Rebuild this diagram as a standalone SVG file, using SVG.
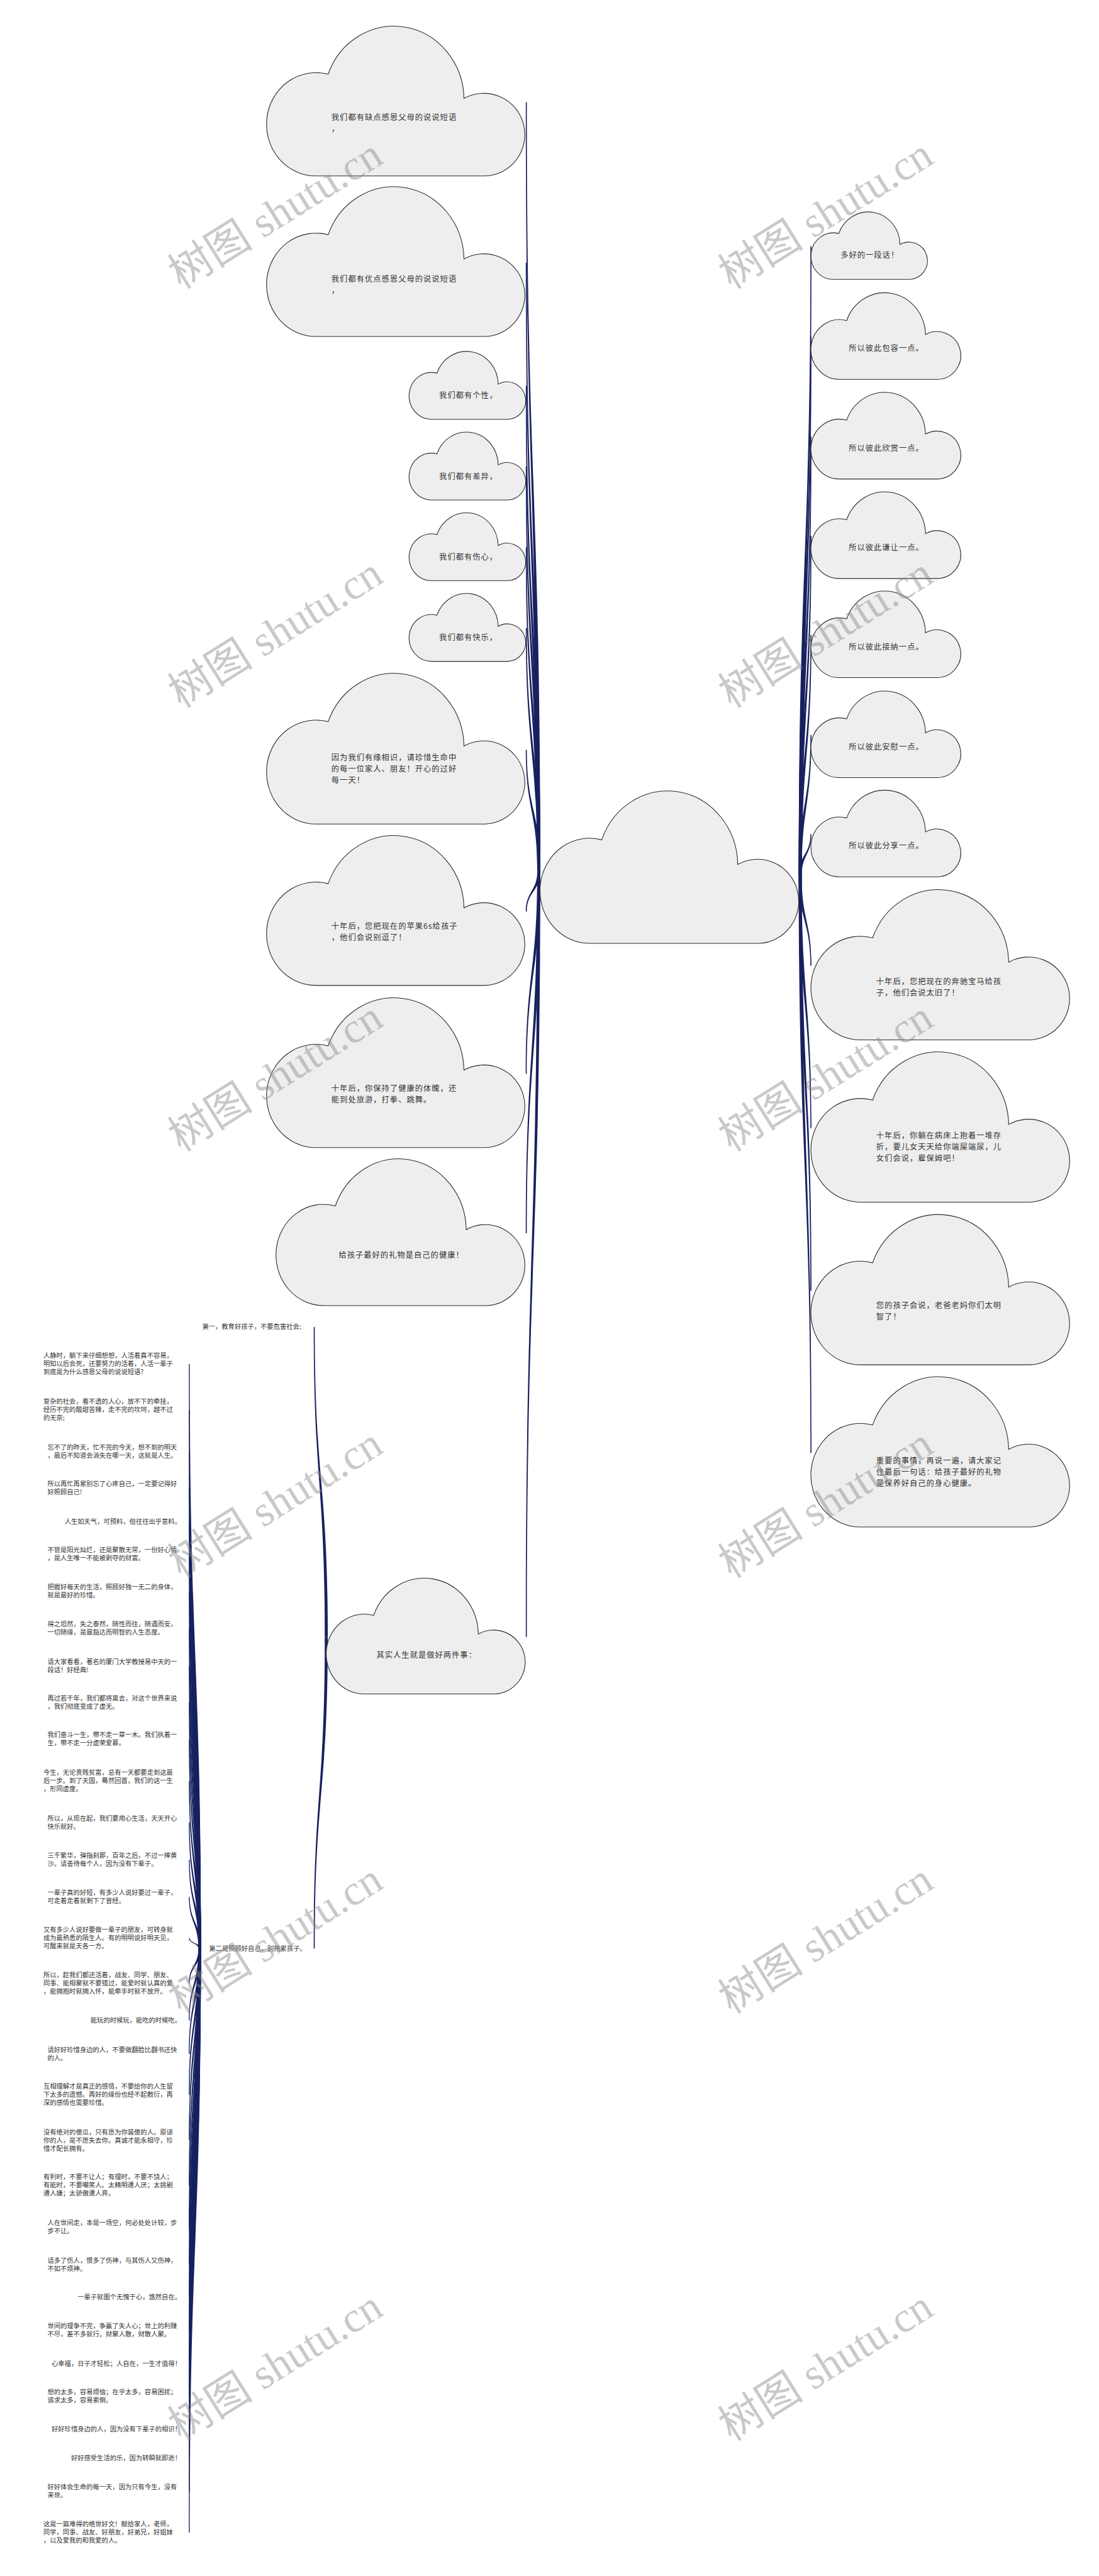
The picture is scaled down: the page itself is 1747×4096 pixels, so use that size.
<svg xmlns="http://www.w3.org/2000/svg" width="1747" height="4096" viewBox="0 0 1747 4096">
<style>
.cl{fill:#eeeeee;stroke:#2b2b2b;stroke-width:1.1;vector-effect:non-scaling-stroke}
.t{font-family:"Noto Sans CJK SC","Liberation Sans",sans-serif;font-size:18px;letter-spacing:1.5px;fill:#333}
.s{font-family:"Noto Sans CJK SC","Liberation Sans",sans-serif;font-size:15.1px;fill:#333}
.e{text-anchor:end}
.cn{fill:#18215f}
.wm{font-family:"Liberation Serif","Noto Sans CJK SC",serif;font-size:100px;fill:#8a8a8a;opacity:.45;text-anchor:middle}
</style>
<defs>
<path id="cloud" class="cl" d="M23.7,31.1 A27,50 0 0 1 76,47.5 A15.8,28 0 1 1 84.2,100 L19,100 A19,35 0 1 1 23.7,31.1 Z"/>
</defs>
<rect width="1747" height="4096" fill="#ffffff"/>
<g transform="scale(0.682422)">
<g id="connectors" class="cn">
<path d="M1251.5,2030C1251.5,1134 1224.8,1134 1224.8,238L1227.2,238C1227.2,1134 1258.5,1134 1258.5,2030Z"/>
<path d="M1251.5,2030C1251.5,1321 1224.8,1321 1224.8,612L1227.2,612C1227.2,1321 1258.5,1321 1258.5,2030Z"/>
<path d="M1251.5,2030C1251.5,1464.5 1224.8,1464.5 1224.8,899L1227.2,899C1227.2,1464.5 1258.5,1464.5 1258.5,2030Z"/>
<path d="M1251.5,2030C1251.5,1558.5 1224.8,1558.5 1224.8,1087L1227.2,1087C1227.2,1558.5 1258.5,1558.5 1258.5,2030Z"/>
<path d="M1251.5,2030C1251.5,1652.5 1224.8,1652.5 1224.8,1275L1227.2,1275C1227.2,1652.5 1258.5,1652.5 1258.5,2030Z"/>
<path d="M1251.5,2030C1251.5,1746.5 1224.8,1746.5 1224.8,1463L1227.2,1463C1227.2,1746.5 1258.5,1746.5 1258.5,2030Z"/>
<path d="M1251.5,2030C1251.5,1888.5 1224.8,1888.5 1224.8,1747L1227.2,1747C1227.2,1888.5 1258.5,1888.5 1258.5,2030Z"/>
<path d="M1251.5,2030C1251.5,2077 1224.8,2077 1224.8,2124L1227.2,2124C1227.2,2077 1258.5,2077 1258.5,2030Z"/>
<path d="M1251.5,2030C1251.5,2266 1224.8,2266 1224.8,2502L1227.2,2502C1227.2,2266 1258.5,2266 1258.5,2030Z"/>
<path d="M1251.5,2030C1251.5,2452 1224.8,2452 1224.8,2873.5L1227.2,2873.5C1227.2,2452 1258.5,2452 1258.5,2030Z"/>
<path d="M1251.5,2030C1251.5,2922 1224.8,2922 1224.8,3814L1227.2,3814C1227.2,2922 1258.5,2922 1258.5,2030Z"/>
<path d="M1860.5,2040C1860.5,1307 1887.8,1307 1887.8,573.5L1890.2,573.5C1890.2,1307 1867.5,1307 1867.5,2040Z"/>
<path d="M1860.5,2040C1860.5,1412 1887.8,1412 1887.8,784.5L1890.2,784.5C1890.2,1412 1867.5,1412 1867.5,2040Z"/>
<path d="M1860.5,2040C1860.5,1528 1887.8,1528 1887.8,1016.5L1890.2,1016.5C1890.2,1528 1867.5,1528 1867.5,2040Z"/>
<path d="M1860.5,2040C1860.5,1644 1887.8,1644 1887.8,1248.5L1890.2,1248.5C1890.2,1644 1867.5,1644 1867.5,2040Z"/>
<path d="M1860.5,2040C1860.5,1760 1887.8,1760 1887.8,1479.5L1890.2,1479.5C1890.2,1760 1867.5,1760 1867.5,2040Z"/>
<path d="M1860.5,2040C1860.5,1876 1887.8,1876 1887.8,1712.5L1890.2,1712.5C1890.2,1876 1867.5,1876 1867.5,2040Z"/>
<path d="M1860.5,2040C1860.5,1992 1887.8,1992 1887.8,1943.5L1890.2,1943.5C1890.2,1992 1867.5,1992 1867.5,2040Z"/>
<path d="M1860.5,2040C1860.5,2145 1887.8,2145 1887.8,2250.5L1890.2,2250.5C1890.2,2145 1867.5,2145 1867.5,2040Z"/>
<path d="M1860.5,2040C1860.5,2334 1887.8,2334 1887.8,2628.5L1890.2,2628.5C1890.2,2334 1867.5,2334 1867.5,2040Z"/>
<path d="M1860.5,2040C1860.5,2524 1887.8,2524 1887.8,3007.5L1890.2,3007.5C1890.2,2524 1867.5,2524 1867.5,2040Z"/>
<path d="M1860.5,2040C1860.5,2713 1887.8,2713 1887.8,3385.5L1890.2,3385.5C1890.2,2713 1867.5,2713 1867.5,2040Z"/>
<path d="M756.5,3814C756.5,3453 730.8,3453 730.8,3092L733.2,3092C733.2,3453 763.5,3453 763.5,3814Z"/>
<path d="M756.5,3814C756.5,4177 730.8,4177 730.8,4540L733.2,4540C733.2,4177 763.5,4177 763.5,3814Z"/>
<path d="M462,4540C462,3859 440,3859 440,3178L442,3178C442,3859 468,3859 468,4540Z"/>
<path d="M462,4540C462,3912.5 440,3912.5 440,3285L442,3285C442,3912.5 468,3912.5 468,4540Z"/>
<path d="M462,4540C462,3960.5 440,3960.5 440,3381L442,3381C442,3960.5 468,3960.5 468,4540Z"/>
<path d="M462,4540C462,4003.5 440,4003.5 440,3467L442,3467C442,4003.5 468,4003.5 468,4540Z"/>
<path d="M462,4540C462,4042.5 440,4042.5 440,3545L442,3545C442,4042.5 468,4042.5 468,4540Z"/>
<path d="M462,4540C462,4080.5 440,4080.5 440,3621L442,3621C442,4080.5 468,4080.5 468,4540Z"/>
<path d="M462,4540C462,4123.5 440,4123.5 440,3707L442,3707C442,4123.5 468,4123.5 468,4540Z"/>
<path d="M462,4540C462,4167 440,4167 440,3794L442,3794C442,4167 468,4167 468,4540Z"/>
<path d="M462,4540C462,4210.5 440,4210.5 440,3881L442,3881C442,4210.5 468,4210.5 468,4540Z"/>
<path d="M462,4540C462,4253.5 440,4253.5 440,3967L442,3967C442,4253.5 468,4253.5 468,4540Z"/>
<path d="M462,4540C462,4296.5 440,4296.5 440,4053L442,4053C442,4296.5 468,4296.5 468,4540Z"/>
<path d="M462,4540C462,4345 440,4345 440,4150L442,4150C442,4345 468,4345 468,4540Z"/>
<path d="M462,4540C462,4393 440,4393 440,4246L442,4246C442,4393 468,4393 468,4540Z"/>
<path d="M462,4540C462,4436.5 440,4436.5 440,4333L442,4333C442,4436.5 468,4436.5 468,4540Z"/>
<path d="M462,4540C462,4480 440,4480 440,4420L442,4420C442,4480 468,4480 468,4540Z"/>
<path d="M462,4540C462,4528 440,4528 440,4516L442,4516C442,4528 468,4528 468,4540Z"/>
<path d="M462,4540C462,4580.5 440,4580.5 440,4621L442,4621C442,4580.5 468,4580.5 468,4540Z"/>
<path d="M462,4540C462,4624 440,4624 440,4708L442,4708C442,4624 468,4624 468,4540Z"/>
<path d="M462,4540C462,4663 440,4663 440,4786L442,4786C442,4663 468,4663 468,4540Z"/>
<path d="M462,4540C462,4710.5 440,4710.5 440,4881L442,4881C442,4710.5 468,4710.5 468,4540Z"/>
<path d="M462,4540C462,4763.5 440,4763.5 440,4987L442,4987C442,4763.5 468,4763.5 468,4540Z"/>
<path d="M462,4540C462,4816 440,4816 440,5092L442,5092C442,4816 468,4816 468,4540Z"/>
<path d="M462,4540C462,4865 440,4865 440,5190L442,5190C442,4865 468,4865 468,4540Z"/>
<path d="M462,4540C462,4908.5 440,4908.5 440,5277L442,5277C442,4908.5 468,4908.5 468,4540Z"/>
<path d="M462,4540C462,4946.5 440,4946.5 440,5353L442,5353C442,4946.5 468,4946.5 468,4540Z"/>
<path d="M462,4540C462,4985 440,4985 440,5430L442,5430C442,4985 468,4985 468,4540Z"/>
<path d="M462,4540C462,5023.5 440,5023.5 440,5507L442,5507C442,5023.5 468,5023.5 468,4540Z"/>
<path d="M462,4540C462,5061.5 440,5061.5 440,5583L442,5583C442,5061.5 468,5061.5 468,4540Z"/>
<path d="M462,4540C462,5100 440,5100 440,5660L442,5660C442,5100 468,5100 468,4540Z"/>
<path d="M462,4540C462,5134 440,5134 440,5728L442,5728C442,5134 468,5134 468,4540Z"/>
<path d="M462,4540C462,5172.5 440,5172.5 440,5805L442,5805C442,5172.5 468,5172.5 468,4540Z"/>
<path d="M462,4540C462,5220.5 440,5220.5 440,5901L442,5901C442,5220.5 468,5220.5 468,4540Z"/>
</g>
<g id="n-root"><use href="#cloud" transform="translate(1258,1848) scale(6.06,3.5)"/></g>
<g id="n-l1"><use href="#cloud" transform="translate(621,66) scale(6.05,3.44)"/><text class="t" x="772" y="280">我们都有缺点感恩父母的说说短语<tspan x="772" dy="26">，</tspan></text></g>
<g id="n-l2"><use href="#cloud" transform="translate(621,440) scale(6.05,3.44)"/><text class="t" x="772" y="657">我们都有优点感恩父母的说说短语<tspan x="772" dy="26">，</tspan></text></g>
<g id="n-l3"><use href="#cloud" transform="translate(953,821) scale(2.73,1.56)"/><text class="t" x="1023" y="928">我们都有个性，</text></g>
<g id="n-l4"><use href="#cloud" transform="translate(953,1009) scale(2.73,1.56)"/><text class="t" x="1023" y="1116">我们都有差异，</text></g>
<g id="n-l5"><use href="#cloud" transform="translate(953,1197) scale(2.73,1.56)"/><text class="t" x="1023" y="1304">我们都有伤心，</text></g>
<g id="n-l6"><use href="#cloud" transform="translate(953,1385) scale(2.73,1.56)"/><text class="t" x="1023" y="1492">我们都有快乐，</text></g>
<g id="n-l7"><use href="#cloud" transform="translate(621,1574) scale(6.05,3.46)"/><text class="t" x="772" y="1772">因为我们有缘相识，请珍惜生命中<tspan x="772" dy="26">的每一位家人、朋友！开心的过好</tspan><tspan x="772" dy="26">每一天！</tspan></text></g>
<g id="n-l8"><use href="#cloud" transform="translate(621,1952) scale(6.05,3.44)"/><text class="t" x="772" y="2165">十年后，您把现在的苹果6s给孩子<tspan x="772" dy="26">，他们会说别逗了！</tspan></text></g>
<g id="n-l9"><use href="#cloud" transform="translate(621,2330) scale(6.05,3.44)"/><text class="t" x="772" y="2543">十年后，你保持了健康的体魄，还<tspan x="772" dy="26">能到处旅游，打拳、跳舞。</tspan></text></g>
<g id="n-l10"><use href="#cloud" transform="translate(643,2705) scale(5.83,3.37)"/><text class="t" x="789" y="2931">给孩子最好的礼物是自己的健康！</text></g>
<g id="n-l11"><use href="#cloud" transform="translate(760,3681) scale(4.66,2.66)"/><text class="t" x="877" y="3862">其实人生就是做好两件事：</text></g>
<g id="n-r1"><use href="#cloud" transform="translate(1889,496) scale(2.73,1.55)"/><text class="t" x="1958" y="601">多好的一段话！</text></g>
<g id="n-r2"><use href="#cloud" transform="translate(1889,685) scale(3.51,1.99)"/><text class="t" x="1977" y="818">所以彼此包容一点。</text></g>
<g id="n-r3"><use href="#cloud" transform="translate(1889,917) scale(3.51,1.99)"/><text class="t" x="1977" y="1050">所以彼此欣赏一点。</text></g>
<g id="n-r4"><use href="#cloud" transform="translate(1889,1149) scale(3.51,1.99)"/><text class="t" x="1977" y="1282">所以彼此谦让一点。</text></g>
<g id="n-r5"><use href="#cloud" transform="translate(1889,1380) scale(3.51,1.99)"/><text class="t" x="1977" y="1513">所以彼此接纳一点。</text></g>
<g id="n-r6"><use href="#cloud" transform="translate(1889,1613) scale(3.51,1.99)"/><text class="t" x="1977" y="1746">所以彼此安慰一点。</text></g>
<g id="n-r7"><use href="#cloud" transform="translate(1889,1844) scale(3.51,1.99)"/><text class="t" x="1977" y="1977">所以彼此分享一点。</text></g>
<g id="n-r8"><use href="#cloud" transform="translate(1889,2078) scale(6.06,3.45)"/><text class="t" x="2041" y="2294">十年后，您把现在的奔驰宝马给孩<tspan x="2041" dy="26">子，他们会说太旧了！</tspan></text></g>
<g id="n-r9"><use href="#cloud" transform="translate(1889,2456) scale(6.06,3.45)"/><text class="t" x="2041" y="2653">十年后，你躺在病床上抱着一堆存<tspan x="2041" dy="26">折，要儿女天天给你端屎端尿，儿</tspan><tspan x="2041" dy="26">女们会说，雇保姆吧！</tspan></text></g>
<g id="n-r10"><use href="#cloud" transform="translate(1889,2835) scale(6.06,3.45)"/><text class="t" x="2041" y="3048">您的孩子会说，老爸老妈你们太明<tspan x="2041" dy="26">智了！</tspan></text></g>
<g id="n-r11"><use href="#cloud" transform="translate(1889,3213) scale(6.06,3.45)"/><text class="t" x="2041" y="3410">重要的事情，再说一遍，请大家记<tspan x="2041" dy="26">住最后一句话：给孩子最好的礼物</tspan><tspan x="2041" dy="26">是保养好自己的身心健康。</tspan></text></g>
<g id="n-a"><text class="s" x="471" y="3097" font-size="15">第一，教育好孩子，不要危害社会;</text></g>
<g id="n-b"><text class="s" x="487" y="4545" font-size="15">第二是照顾好自己，别拖累孩子。</text></g>
<g id="n-b1"><text class="s" x="101" y="3164">人静时，躺下来仔细想想，人活着真不容易，<tspan x="101" dy="19">明知以后会死，还要努力的活着，人活一辈子</tspan><tspan x="101" dy="19">到底是为什么感恩父母的说说短语?</tspan></text></g>
<g id="n-b2"><text class="s" x="101" y="3271">复杂的社会，看不透的人心，放不下的牵挂，<tspan x="101" dy="19">经历不完的酸甜苦辣，走不完的坎坷，越不过</tspan><tspan x="101" dy="19">的无奈;</tspan></text></g>
<g id="n-b3"><text class="s" x="110.5" y="3377">忘不了的昨天，忙不完的今天，想不到的明天<tspan x="110.5" dy="19">，最后不知道会消失在哪一天，这就是人生。</tspan></text></g>
<g id="n-b4"><text class="s" x="110.5" y="3462">所以再忙再累别忘了心疼自己，一定要记得好<tspan x="110.5" dy="19">好照顾自己!</tspan></text></g>
<g id="n-b5"><text class="s e" x="422" y="3550">人生如天气，可预料，但往往出乎意料。</text></g>
<g id="n-b6"><text class="s" x="110.5" y="3617">不管是阳光灿烂，还是聚散无常，一份好心情<tspan x="110.5" dy="19">，是人生唯一不能被剥夺的财富。</tspan></text></g>
<g id="n-b7"><text class="s" x="110.5" y="3703">把握好每天的生活，照顾好独一无二的身体，<tspan x="110.5" dy="19">就是最好的珍惜。</tspan></text></g>
<g id="n-b8"><text class="s" x="110.5" y="3790">得之坦然，失之泰然，随性而往，随遇而安，<tspan x="110.5" dy="19">一切随缘，是最豁达而明智的人生态度。</tspan></text></g>
<g id="n-b9"><text class="s" x="110.5" y="3877">请大家看看，著名的厦门大学教授易中天的一<tspan x="110.5" dy="19">段话！好经典!</tspan></text></g>
<g id="n-b10"><text class="s" x="110.5" y="3962">再过若干年，我们都将离去，对这个世界来说<tspan x="110.5" dy="19">，我们彻底变成了虚无。</tspan></text></g>
<g id="n-b11"><text class="s" x="110.5" y="4048">我们奋斗一生，带不走一草一木。我们执着一<tspan x="110.5" dy="19">生，带不走一分虚荣爱慕。</tspan></text></g>
<g id="n-b12"><text class="s" x="101" y="4136">今生，无论贵贱贫富，总有一天都要走到这最<tspan x="101" dy="19">后一步。到了天国，蓦然回首，我们的这一生</tspan><tspan x="101" dy="19">，形同虚度。</tspan></text></g>
<g id="n-b13"><text class="s" x="110.5" y="4242">所以，从现在起，我们要用心生活，天天开心<tspan x="110.5" dy="19">快乐就好。</tspan></text></g>
<g id="n-b14"><text class="s" x="110.5" y="4329">三千繁华，弹指刹那，百年之后，不过一捧黄<tspan x="110.5" dy="19">沙。请善待每个人，因为没有下辈子。</tspan></text></g>
<g id="n-b15"><text class="s" x="110.5" y="4415">一辈子真的好短，有多少人说好要过一辈子，<tspan x="110.5" dy="19">可走着走着就剩下了曾经。</tspan></text></g>
<g id="n-b16"><text class="s" x="101" y="4502">又有多少人说好要做一辈子的朋友，可转身就<tspan x="101" dy="19">成为最熟悉的陌生人。有的明明说好明天见，</tspan><tspan x="101" dy="19">可醒来就是天各一方。</tspan></text></g>
<g id="n-b17"><text class="s" x="101" y="4607">所以，趁我们都还活着，战友、同学、朋友、<tspan x="101" dy="19">同事、能相聚就不要错过，能爱时就认真的爱</tspan><tspan x="101" dy="19">，能拥抱时就拥入怀，能牵手时就不放开。</tspan></text></g>
<g id="n-b18"><text class="s e" x="422" y="4713">能玩的时候玩，能吃的时候吃。</text></g>
<g id="n-b19"><text class="s" x="110.5" y="4782">请好好珍惜身边的人，不要做翻脸比翻书还快<tspan x="110.5" dy="19">的人。</tspan></text></g>
<g id="n-b20"><text class="s" x="101" y="4867">互相理解才是真正的感情，不要给你的人生留<tspan x="101" dy="19">下太多的遗憾。再好的缘份也经不起敷衍，再</tspan><tspan x="101" dy="19">深的感情也需要珍惜。</tspan></text></g>
<g id="n-b21"><text class="s" x="101" y="4973">没有绝对的傻瓜，只有愿为你装傻的人。原谅<tspan x="101" dy="19">你的人，是不愿失去你。真诚才能永相守，珍</tspan><tspan x="101" dy="19">惜才配长拥有。</tspan></text></g>
<g id="n-b22"><text class="s" x="101" y="5078">有利时，不要不让人；有理时，不要不饶人；<tspan x="101" dy="19">有能时，不要嘲笑人。太精明遭人厌；太挑剔</tspan><tspan x="101" dy="19">遭人嫌；太骄傲遭人弃。</tspan></text></g>
<g id="n-b23"><text class="s" x="110.5" y="5185">人在世间走，本是一场空，何必处处计较，步<tspan x="110.5" dy="19">步不让。</tspan></text></g>
<g id="n-b24"><text class="s" x="110.5" y="5272">话多了伤人，恨多了伤神，与其伤人又伤神，<tspan x="110.5" dy="19">不如不烦神。</tspan></text></g>
<g id="n-b25"><text class="s e" x="422" y="5358">一辈子就图个无愧于心，悠然自在。</text></g>
<g id="n-b26"><text class="s" x="110.5" y="5425">世间的理争不完，争赢了失人心；世上的利赚<tspan x="110.5" dy="19">不尽，差不多就行。财聚人散，财散人聚。</tspan></text></g>
<g id="n-b27"><text class="s e" x="422" y="5512">心幸福，日子才轻松；人自在，一生才值得！</text></g>
<g id="n-b28"><text class="s" x="110.5" y="5578">想的太多，容易烦恼；在乎太多，容易困扰；<tspan x="110.5" dy="19">追求太多，容易累倒。</tspan></text></g>
<g id="n-b29"><text class="s e" x="422" y="5665">好好珍惜身边的人，因为没有下辈子的相识！</text></g>
<g id="n-b30"><text class="s e" x="422" y="5733">好好感受生活的乐，因为转瞬就即逝！</text></g>
<g id="n-b31"><text class="s" x="110.5" y="5800">好好体会生命的每一天，因为只有今生，没有<tspan x="110.5" dy="19">来世。</tspan></text></g>
<g id="n-b32"><text class="s" x="101" y="5887">这是一篇难得的绝世好文！献给家人，老师，<tspan x="101" dy="19">同学，同事、战友、好朋友，好弟兄，好姐妹</tspan><tspan x="101" dy="19">，以及爱我的和我爱的人。</tspan></text></g>
<g id="watermark">
<text class="wm" x="641" y="532" transform="rotate(-32 641 497)">树图 shutu.cn</text>
<text class="wm" x="1923" y="532" transform="rotate(-32 1923 497)">树图 shutu.cn</text>
<text class="wm" x="641" y="1508" transform="rotate(-32 641 1473)">树图 shutu.cn</text>
<text class="wm" x="1923" y="1508" transform="rotate(-32 1923 1473)">树图 shutu.cn</text>
<text class="wm" x="641" y="2542" transform="rotate(-32 641 2507)">树图 shutu.cn</text>
<text class="wm" x="1923" y="2542" transform="rotate(-32 1923 2507)">树图 shutu.cn</text>
<text class="wm" x="641" y="3536" transform="rotate(-32 641 3501)">树图 shutu.cn</text>
<text class="wm" x="1923" y="3536" transform="rotate(-32 1923 3501)">树图 shutu.cn</text>
<text class="wm" x="641" y="4551" transform="rotate(-32 641 4516)">树图 shutu.cn</text>
<text class="wm" x="1923" y="4551" transform="rotate(-32 1923 4516)">树图 shutu.cn</text>
<text class="wm" x="641" y="5546" transform="rotate(-32 641 5511)">树图 shutu.cn</text>
<text class="wm" x="1923" y="5546" transform="rotate(-32 1923 5511)">树图 shutu.cn</text>
</g>
</g>
</svg>
